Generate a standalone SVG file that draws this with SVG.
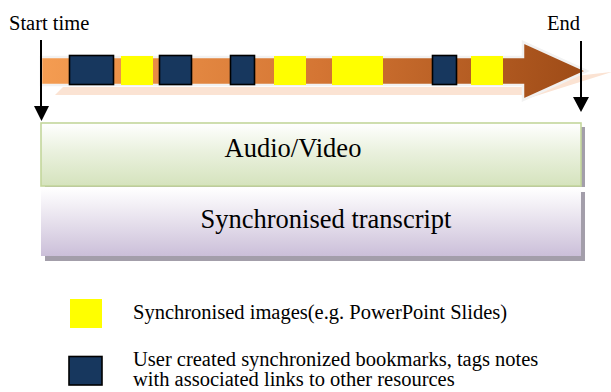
<svg xmlns="http://www.w3.org/2000/svg" width="611" height="392" viewBox="0 0 611 392">
  <defs>
    <linearGradient id="arrowGrad" gradientUnits="userSpaceOnUse" x1="40" y1="42" x2="600" y2="100">
      <stop offset="0" stop-color="#f59d52"/>
      <stop offset="0.5" stop-color="#d47533"/>
      <stop offset="1" stop-color="#9a4815"/>
    </linearGradient>
    <linearGradient id="greenGrad" x1="0" y1="0" x2="0" y2="1">
      <stop offset="0" stop-color="#ffffff"/>
      <stop offset="0.45" stop-color="#eaf1de"/>
      <stop offset="1" stop-color="#d5e3bd"/>
    </linearGradient>
    <linearGradient id="purpleGrad" x1="0" y1="0" x2="0" y2="1">
      <stop offset="0" stop-color="#ffffff"/>
      <stop offset="0.4" stop-color="#ebe6f0"/>
      <stop offset="1" stop-color="#cbbfd9"/>
    </linearGradient>
    <style>
      text { font-family: "Liberation Serif", "Times New Roman", serif; fill: #000; }
      .lbl { font-size: 20.5px; }
      .box { font-size: 26.5px; text-anchor: middle; }
      .leg { font-size: 20.5px; }
      .bm { fill: #17375e; stroke: #000; stroke-width: 1.6; }
      .img { fill: #ffff00; }
      .conn { stroke: #000; stroke-width: 2; fill: none; }
      .shadow { fill: #a39eaa; }
    </style>
  </defs>

  <g id="timeline">
    <polygon points="63,87 523,87 523,82 612,72 523,100 523,95 55,95" fill="#fbe3d3"/>
    <polygon points="41,57 523,57 523,42 587,71 523,100 523,85 41,85" fill="url(#arrowGrad)" stroke="#f2f2f2" stroke-width="2.5" stroke-linejoin="miter"/>
    <rect class="bm" x="69.5" y="55.5" width="44" height="29"/>
    <rect class="img" x="121" y="56" width="32" height="29"/>
    <rect class="bm" x="159.5" y="55.5" width="32" height="29"/>
    <rect class="bm" x="230.5" y="55.5" width="24" height="29"/>
    <rect class="img" x="274" y="56" width="32" height="29"/>
    <rect class="img" x="332" y="56" width="51" height="29"/>
    <rect class="bm" x="432.5" y="55.5" width="24" height="29"/>
    <rect class="img" x="471" y="56" width="32" height="29"/>
  </g>

  <g id="start-label">
    <text class="lbl" x="9" y="30">Start time</text>
  </g>
  <g id="end-label">
    <text class="lbl" x="547" y="30">End</text>
  </g>

  <g id="audio-video">
    <rect class="shadow" x="45" y="127" width="540" height="60"/>
    <rect x="41" y="123" width="540" height="63" fill="url(#greenGrad)" stroke="#c3d69b" stroke-width="1.6"/>
    <text class="box" x="293" y="157">Audio/Video</text>
  </g>

  <g id="transcript">
    <rect class="shadow" x="45" y="192" width="540" height="69"/>
    <rect x="41" y="188" width="540" height="68" fill="url(#purpleGrad)"/>
    <text class="box" x="326" y="228">Synchronised transcript</text>
  </g>

  <g id="connectors">
    <line class="conn" x1="41" y1="40" x2="41" y2="107"/>
    <polygon points="34,106 49,106 41.5,121" fill="#000"/>
    <line class="conn" x1="581" y1="41" x2="581" y2="98"/>
    <polygon points="573,97 589,97 581,112" fill="#000"/>
  </g>

  <g id="legend-images">
    <rect class="img" x="70" y="299" width="32" height="29"/>
    <text class="leg" x="133" y="318.5">Synchronised images(e.g. PowerPoint Slides)</text>
  </g>

  <g id="legend-bookmarks">
    <rect class="bm" x="69" y="356.5" width="33" height="28.5"/>
    <text class="leg" x="133" y="366">User created synchronized bookmarks, tags notes</text>
    <text class="leg" x="133" y="386">with associated links to other resources</text>
  </g>
</svg>
